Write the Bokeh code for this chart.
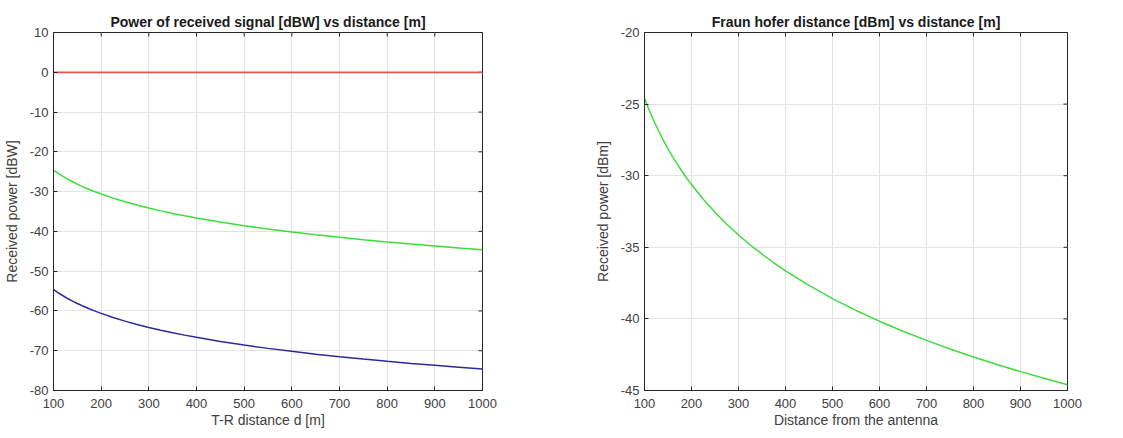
import math
from bokeh.plotting import figure
from bokeh.layouts import row
from bokeh.models import FixedTicker, Range1d
from bokeh.embed import file_html
from bokeh.resources import INLINE

# Distances [m]
dist = [100, 110, 120, 130, 140, 150, 160, 175, 190, 200, 225, 250, 275, 300,
        325, 350, 375, 400, 450, 500, 550, 600, 650, 700, 750, 800, 850, 900,
        950, 1000]
# Left chart series [dBW]
ref_power = [0] * len(dist)
green_power = [-24.6, -25.43, -26.18, -26.88, -27.52, -28.12, -28.68, -29.46,
               -30.18, -30.62, -31.64, -32.56, -33.39, -34.14, -34.84, -35.48,
               -36.08, -36.64, -37.66, -38.58, -39.41, -40.16, -40.86, -41.5,
               -42.1, -42.66, -43.19, -43.68, -44.15, -44.6]
blue_power = [-54.6, -55.43, -56.18, -56.88, -57.52, -58.12, -58.68, -59.46,
              -60.18, -60.62, -61.64, -62.56, -63.39, -64.14, -64.84, -65.48,
              -66.08, -66.64, -67.66, -68.58, -69.41, -70.16, -70.86, -71.5,
              -72.1, -72.66, -73.19, -73.68, -74.15, -74.6]
# Right chart series [dBm]
fraun_power = [-24.6, -25.43, -26.18, -26.88, -27.52, -28.12, -28.68, -29.46,
               -30.18, -30.62, -31.64, -32.56, -33.39, -34.14, -34.84, -35.48,
               -36.08, -36.64, -37.66, -38.58, -39.41, -40.16, -40.86, -41.5,
               -42.1, -42.66, -43.19, -43.68, -44.15, -44.6]

x_ticks = [100, 200, 300, 400, 500, 600, 700, 800, 900, 1000]
left_y_ticks = [-80, -70, -60, -50, -40, -30, -20, -10, 0, 10]
right_y_ticks = [-45, -40, -35, -30, -25, -20]

FONT = "Liberation Sans"
AX = "#262626"
TXT = "#404040"
GREEN = "#3ddc3d"
BLUE = "#2a2a9e"
RED = "#e65050"


def style(p, xticks, yticks, xlabel, ylabel):
    p.xaxis.ticker = FixedTicker(ticks=xticks)
    p.yaxis.ticker = FixedTicker(ticks=yticks)
    p.xaxis.major_label_overrides = {t: str(t) for t in xticks}
    p.yaxis.major_label_overrides = {t: str(t) for t in yticks}
    p.xaxis.axis_label = xlabel
    p.yaxis.axis_label = ylabel
    for ax in (p.xaxis[0], p.yaxis[0]):
        ax.axis_label_text_font = FONT
        ax.axis_label_text_font_style = "normal"
        ax.axis_label_text_font_size = "14px"
        ax.axis_label_text_color = TXT
        ax.major_label_text_font = FONT
        ax.major_label_text_font_size = "13px"
        ax.major_label_text_color = TXT
        ax.axis_line_color = AX
        ax.major_tick_line_color = AX
        ax.major_tick_in = 4
        ax.major_tick_out = 0
        ax.minor_tick_line_color = None
    p.xaxis.major_label_standoff = 8
    p.xaxis.axis_label_standoff = 1
    p.yaxis.major_label_standoff = 5
    p.yaxis.axis_label_standoff = 7
    p.grid.grid_line_color = "#e2e2e2"
    p.grid.grid_line_width = 1
    p.outline_line_color = AX
    p.outline_line_width = 1
    p.title.text_font = FONT
    p.title.text_font_size = "14px"
    p.title.text_font_style = "bold"
    p.title.text_color = "#1a1a1a"
    p.title.align = "center"
    p.title.offset = 0
    p.title.standoff = 6
    # inward tick marks on the top and right edges (box style)
    top_val = yticks[-1]
    right_val = xticks[-1]
    p.scatter(xticks, [top_val] * len(xticks), marker="dash", size=8,
              angle=math.pi / 2, line_color=AX, line_width=1)
    p.scatter([right_val] * len(yticks), yticks, marker="dash", size=8,
              line_color=AX, line_width=1)


p1 = figure(width=560, height=430, output_backend="svg", toolbar_location=None,
            x_range=Range1d(100, 1000), y_range=Range1d(-80, 10),
            title="Power of received signal [dBW] vs distance [m]",
            min_border_left=53, min_border_right=78, min_border_top=27,
            min_border_bottom=40)
style(p1, x_ticks, left_y_ticks, "T-R distance d [m]", "Received power [dBW]")
p1.line(dist, ref_power, line_color=RED, line_width=1.8)
p1.line(dist, green_power, line_color=GREEN, line_width=1.5)
p1.line(dist, blue_power, line_color=BLUE, line_width=1.5)

p2 = figure(width=555, height=430, output_backend="svg", toolbar_location=None,
            x_range=Range1d(100, 1000), y_range=Range1d(-45, -20),
            title="Fraun hofer distance [dBm] vs distance [m]",
            min_border_left=84, min_border_right=48, min_border_top=32,
            min_border_bottom=39)
style(p2, x_ticks, right_y_ticks, "Distance from the antenna", "Received power [dBm]")
p2.line(dist, fraun_power, line_color=GREEN, line_width=1.5)

layout = row(p1, p2)
open("out.html", "w").write(file_html(layout, INLINE))
